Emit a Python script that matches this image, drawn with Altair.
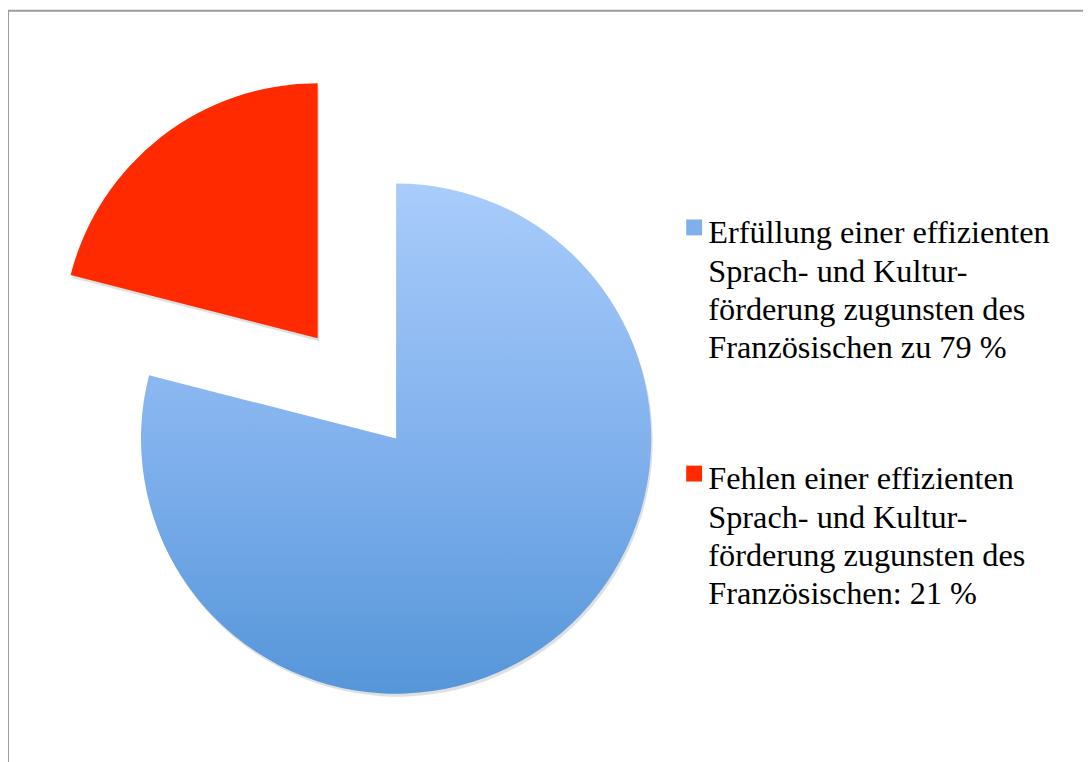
import altair as alt
import pandas as pd

# ---- data ----
keys = ["erfuellung", "fehlen"]
labels = [
    "Erfüllung einer effizienten\nSprach- und Kultur-\nförderung zugunsten des\nFranzösischen zu 79 %",
    "Fehlen einer effizienten\nSprach- und Kultur-\nförderung zugunsten des\nFranzösischen: 21 %",
]
values = [79, 21]
colors = ["#80B0EC", "#FF2A00"]

df = pd.DataFrame({"key": keys, "label": labels, "value": values})

# ---- layout ----
W, H = 1083, 754
CX, CY, R = 391, 431, 257
EXPLODE_X, EXPLODE_Y = -79, -101
SHADOW_DX, SHADOW_DY = 1.5, 3
FONT = "Liberation Serif"
# square symbol nudged up/right so it sits at the cap height of the first line
SYMBOL_PATH = "M-0.75,-1.75L1.25,-1.75L1.25,0.25L-0.75,0.25Z"

blue_gradient = alt.LinearGradient(
    gradient="linear",
    stops=[
        alt.GradientStop(color="#A9CCFB", offset=0),
        alt.GradientStop(color="#7EAFEC", offset=0.55),
        alt.GradientStop(color="#5596D9", offset=1),
    ],
    x1=0, x2=0, y1=0, y2=1,
)

base = alt.Chart(df).transform_stack(stack="value", groupby=[], as_=["start", "end"])
theta = alt.Theta("start:Q", scale=alt.Scale(domain=[0, sum(values)]))
theta2 = alt.Theta2("end:Q")


def slice_layer(i, fill, cx, cy, opacity=1.0):
    return base.transform_filter(alt.datum.key == keys[i]).mark_arc(
        color=fill, radius=R, opacity=opacity
    ).encode(theta=theta, theta2=theta2, x=alt.value(cx), y=alt.value(cy))


blue_shadow = slice_layer(0, "#000000", CX + SHADOW_DX, CY + SHADOW_DY, 0.12)
red_shadow = slice_layer(1, "#000000", CX + EXPLODE_X + SHADOW_DX, CY + EXPLODE_Y + SHADOW_DY, 0.12)
blue = slice_layer(0, blue_gradient, CX, CY)
red = slice_layer(1, colors[1], CX + EXPLODE_X, CY + EXPLODE_Y)


def legend_layer(i, ly):
    return base.transform_filter(alt.datum.key == keys[i]).mark_arc(radius=0).encode(
        theta=theta,
        theta2=theta2,
        x=alt.value(CX),
        y=alt.value(CY),
        color=alt.Color(
            "label:N",
            scale=alt.Scale(domain=[labels[i]], range=[colors[i]]),
            legend=alt.Legend(
                title=None,
                orient="none",
                legendX=673,
                legendY=ly,
                padding=0,
                symbolType=SYMBOL_PATH,
                symbolSize=256,
                symbolStrokeWidth=0,
                symbolOpacity=1,
                symbolOffset=0,
                labelOffset=0,
                labelFont=FONT,
                labelFontSize=32.5,
                labelColor="#000000",
                labelLimit=0,
                labelBaseline="middle",
                labelExpr="split(datum.label, '\\n')",
            ),
        ),
    )


leg1 = legend_layer(0, 208)
leg2 = legend_layer(1, 456)

frame_data = pd.DataFrame({"a": [0]})
frame_top = alt.Chart(frame_data).mark_rule(color="#9C9C9C", strokeWidth=2).encode(
    x=alt.value(0), x2=alt.value(W + 20), y=alt.value(0)
)
frame_left = alt.Chart(frame_data).mark_rule(color="#9C9C9C", strokeWidth=2).encode(
    x=alt.value(0), y=alt.value(0), y2=alt.value(H + 20)
)

chart = (
    alt.layer(frame_top, frame_left, blue_shadow, red_shadow, blue, red, leg1, leg2)
    .resolve_scale(color="independent")
    .properties(width=W, height=H, padding=0, autosize="none", background="#FFFFFF")
    .configure(style={"guide-label": {"lineHeight": 38.5}})
    .configure_view(stroke=None)
)

chart.save("out.html", embed_options={"renderer": "svg", "actions": False})
